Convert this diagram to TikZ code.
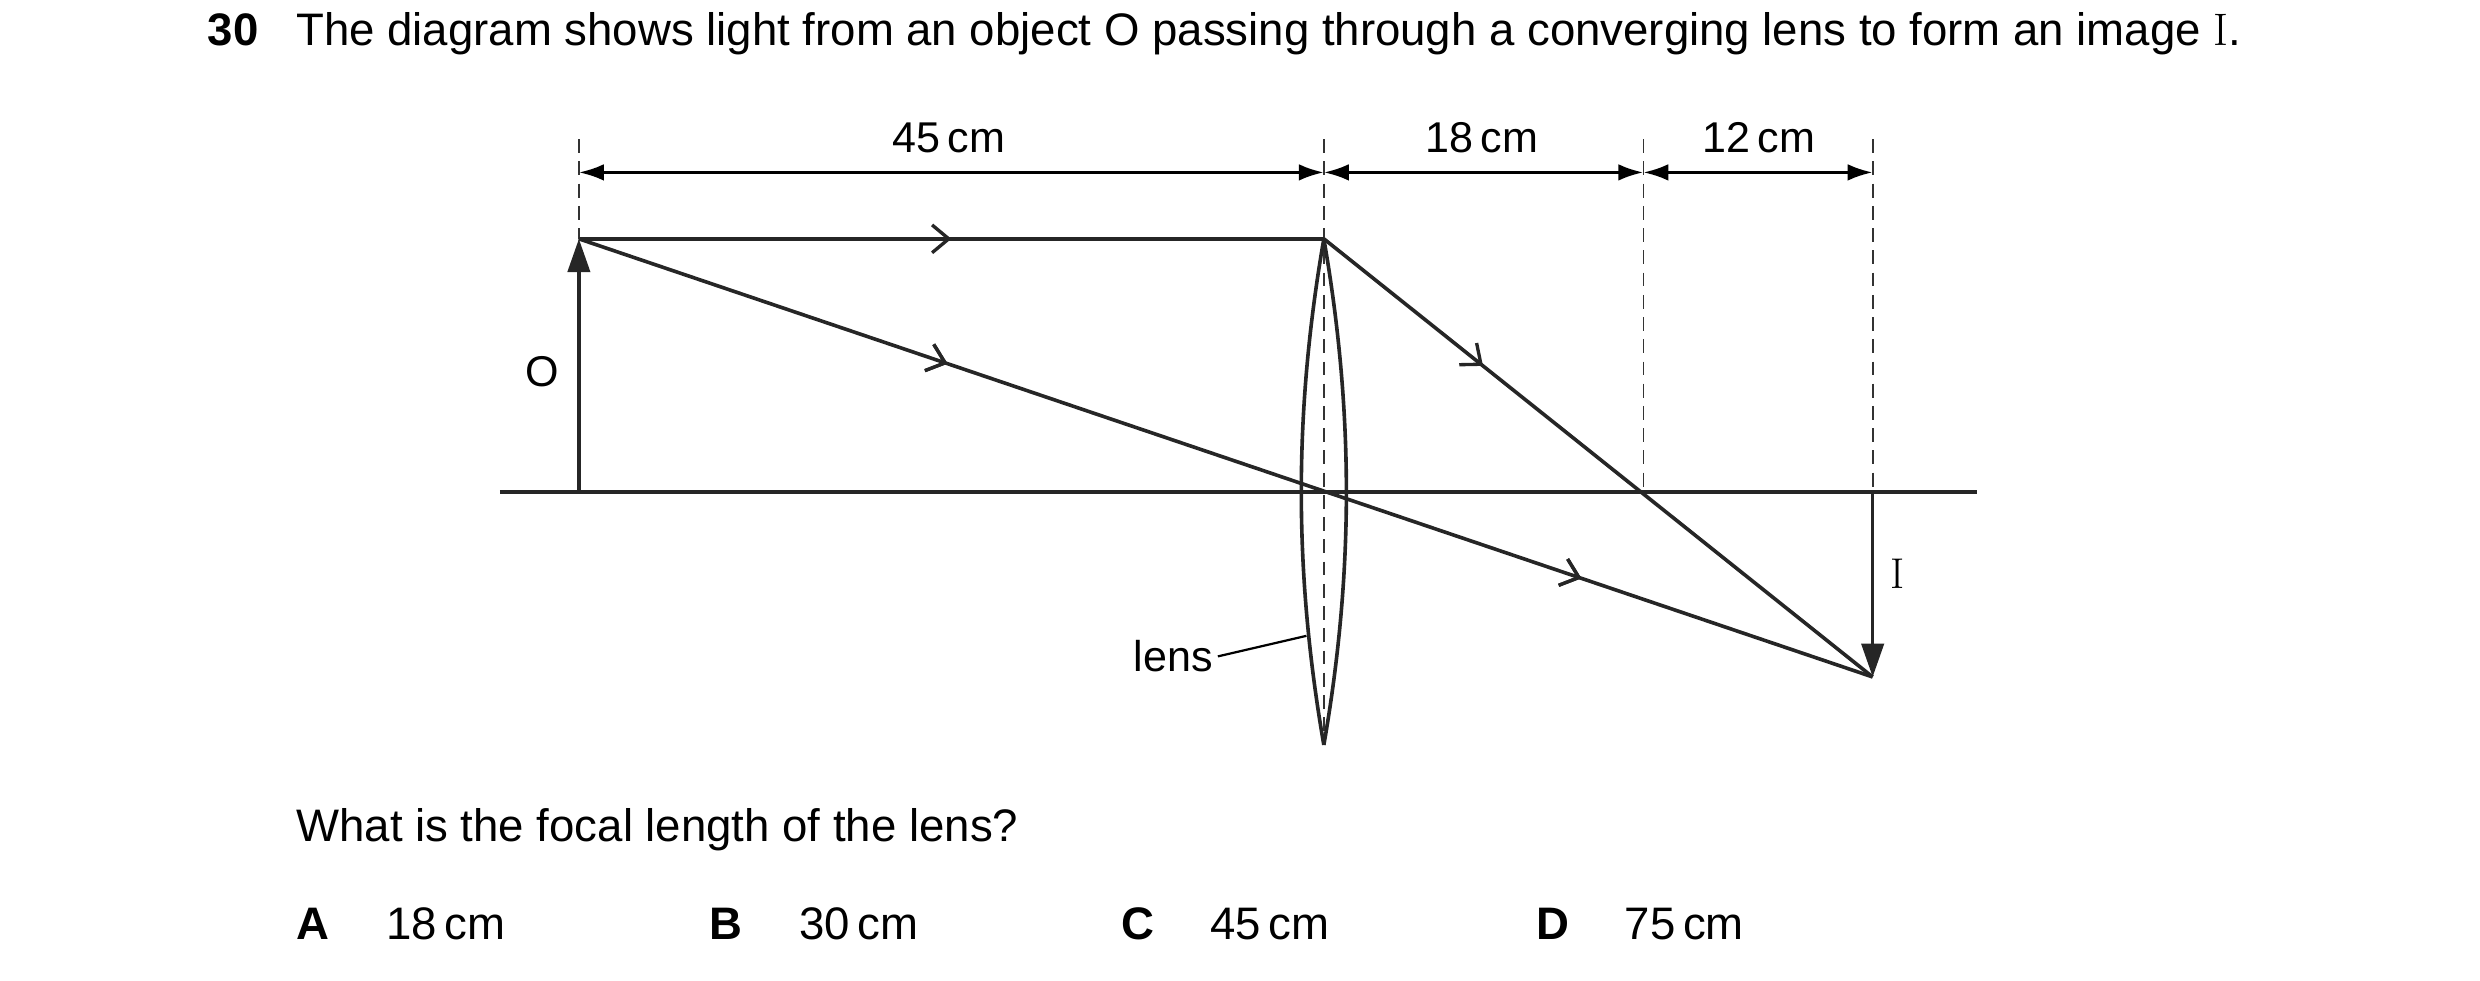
\documentclass[tikz,border=0pt]{standalone}
\usepackage{fontspec}
\setmainfont{Liberation Sans}
\newfontfamily\lmr{Latin Modern Roman}
\usetikzlibrary{arrows.meta,decorations.markings}
\begin{document}
\begin{tikzpicture}[x=0.02cm,y=-0.02cm,
  ln/.style={line width=1.3pt,black!85},
  dsh/.style={line width=0.6pt,dash pattern=on 5pt off 3pt,black!80},
  dim/.style={line width=1.1pt,{Latex[length=9pt,width=6pt]}-{Latex[length=9pt,width=6pt]}},
  mid/.style={postaction={decorate},decoration={markings,mark=at position #1 with {\arrow{Straight Barb[length=6pt,width=10pt,line width=1.2pt]}}}},
  lbl/.style={font=\fontsize{15.5}{18}\selectfont,inner sep=0pt},
  txt/.style={font=\fontsize{16.4}{19}\selectfont,inner sep=0pt,anchor=base west}]
\useasboundingbox (0,0) rectangle (1568,620);
% header
\node[txt,font=\fontsize{16.4}{19}\selectfont\bfseries] (num) at (131,29) {30};
\node[txt] (head) at (187,29) {The diagram shows light from an object O passing through a converging lens to form an image {\lmr I}.};
% key points
\coordinate (Ob) at (366,311); \coordinate (Ot) at (366,151);
\coordinate (Lt) at (837,151); \coordinate (Lb) at (837,471); \coordinate (Lc) at (837,311);
\coordinate (F) at (1039,311); \coordinate (Ib) at (1184,428); \coordinate (Ia) at (1184,311);
\coordinate (AxL) at (316,311); \coordinate (AxR) at (1250,311);
% dashed verticals
\draw[dsh] (366,88) -- (Ot);
\draw[dsh] (837,88) -- (Lb);
\draw[dsh] (1039,88) -- (F);
\draw[dsh] (1184,88) -- (Ia);
% dimensions
\coordinate (d1) at (366,109); \coordinate (d2) at (837,109); \coordinate (d3) at (1039,109); \coordinate (d4) at (1184,109);
\draw[dim] (d1) -- (d2); \draw[dim] (d2) -- (d3); \draw[dim] (d3) -- (d4);
\node[lbl] (l45) at (600,87) {45\,cm};
\node[lbl] (l18) at (937,87) {18\,cm};
\node[lbl] (l12) at (1112,87) {12\,cm};
% axis
\draw[ln] (AxL) -- (AxR);
% object and image
\draw[ln,-{Triangle[length=12pt,width=8pt]}] (Ob) -- (Ot);
\draw[ln,-{Triangle[length=12pt,width=8pt]}] (Ia) -- (Ib);
\node[lbl] (O) at (343,235) {O};
\node[lbl,font=\fontsize{15.5}{18}\lmr] (I) at (1200,363) {I};
% lens
\draw[ln] (Lt) .. controls (818,260) and (818,362) .. (Lb);
\draw[ln] (Lt) .. controls (856,260) and (856,362) .. (Lb);
\node[lbl,anchor=east] (lens) at (767,415) {lens};
\draw[line width=0.8pt] (lens.east) ++(3,0) -- (826,402);
% rays
\draw[ln,mid=0.5] (Ot) -- (Lt);
\draw[ln,mid=0.285,mid=0.775] (Ot) -- (Ib);
\draw[ln,mid=0.29] (Lt) -- (Ib);
% question
\node[txt] (q) at (187,532) {What is the focal length of the lens?};
\node[txt,font=\fontsize{16.4}{19}\selectfont\bfseries] (A) at (187,594) {A};
\node[txt] (a) at (244,594) {18\,cm};
\node[txt,font=\fontsize{16.4}{19}\selectfont\bfseries] (B) at (448,594) {B};
\node[txt] (b) at (505,594) {30\,cm};
\node[txt,font=\fontsize{16.4}{19}\selectfont\bfseries] (C) at (709,594) {C};
\node[txt] (c) at (765,594) {45\,cm};
\node[txt,font=\fontsize{16.4}{19}\selectfont\bfseries] (D) at (971,594) {D};
\node[txt] (d) at (1027,594) {75\,cm};
\end{tikzpicture}
\end{document}
